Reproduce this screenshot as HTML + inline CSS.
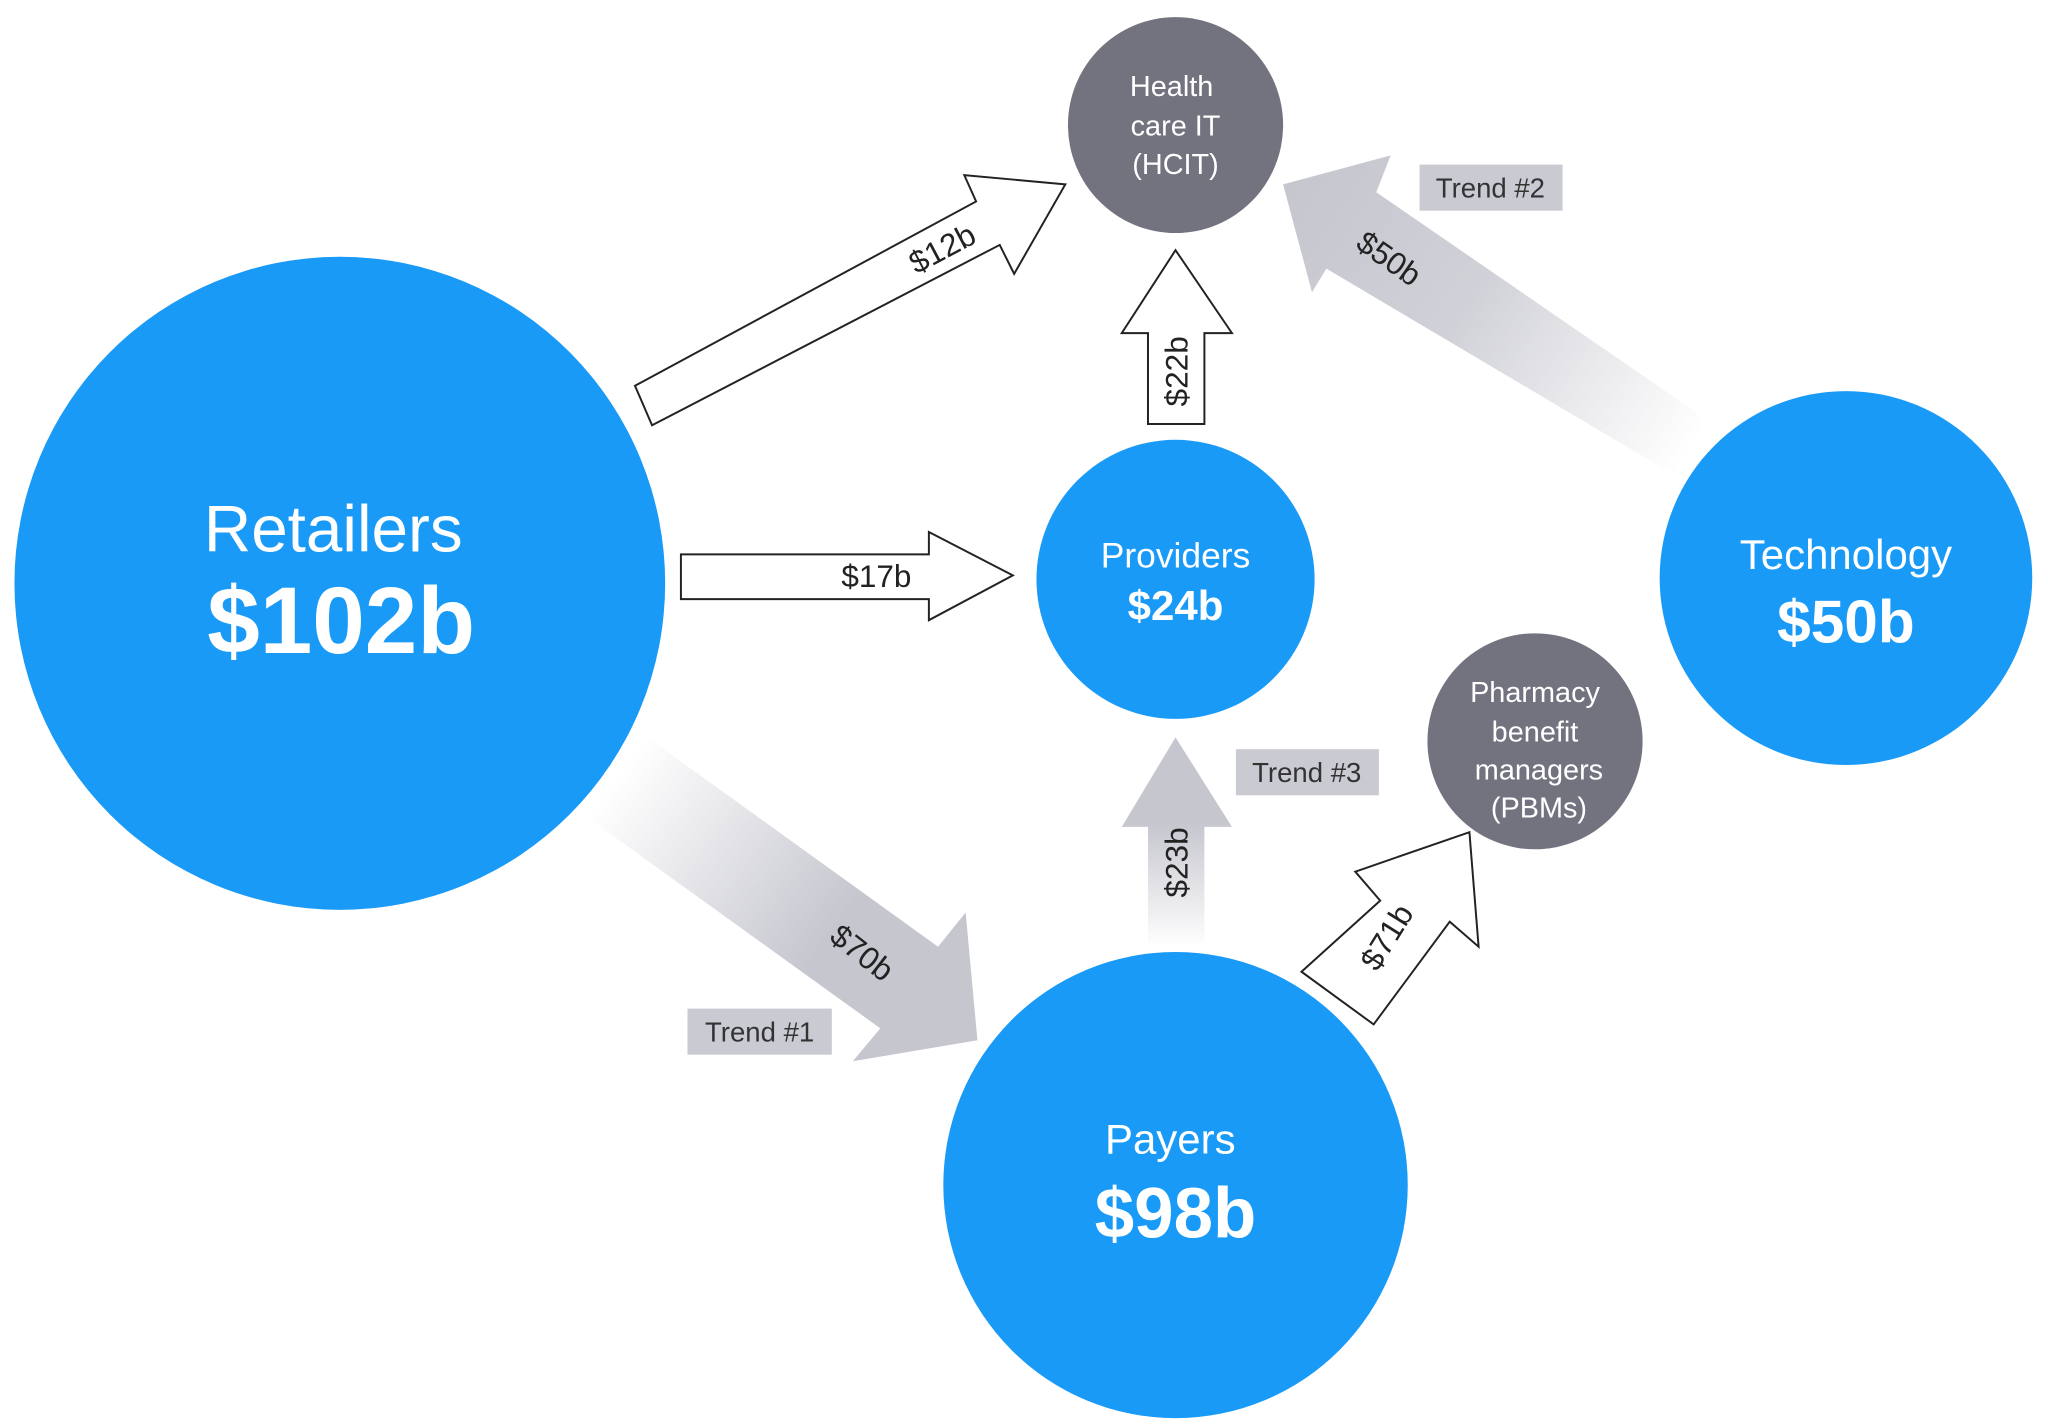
<!DOCTYPE html>
<html><head><meta charset="utf-8"><style>
html,body{margin:0;padding:0;background:#fff}
svg{display:block}
text{font-family:"Liberation Sans",sans-serif}
</style></head><body>
<svg width="2048" height="1426" viewBox="0 0 1561 1083" preserveAspectRatio="none" xmlns="http://www.w3.org/2000/svg">
<defs>
<linearGradient id="g70" gradientUnits="userSpaceOnUse" x1="470" y1="590" x2="745" y2="790">
<stop offset="0" stop-color="#c5c6ce" stop-opacity="0"/><stop offset="0.6" stop-color="#c5c6ce"/><stop offset="1" stop-color="#c5c6ce"/></linearGradient>
<linearGradient id="g50" gradientUnits="userSpaceOnUse" x1="1290" y1="340" x2="980" y2="140">
<stop offset="0" stop-color="#c5c6ce" stop-opacity="0"/><stop offset="0.55" stop-color="#c5c6ce" stop-opacity="0.8"/><stop offset="1" stop-color="#c5c6ce"/></linearGradient>
<linearGradient id="g23" gradientUnits="userSpaceOnUse" x1="0" y1="720" x2="0" y2="560">
<stop offset="0" stop-color="#c5c6ce" stop-opacity="0"/><stop offset="0.6" stop-color="#c5c6ce"/><stop offset="1" stop-color="#c5c6ce"/></linearGradient>
</defs>
<polygon points="492,559 715,719 736,693 745,790 650,806 671,781 448,621" fill="url(#g70)"/>
<polygon points="1300,318 1049,146 1060,118 978,140 1000,222 1011,204 1275,360" fill="url(#g50)"/>
<polygon points="875,720 875,628 855,628 896,560 939,628 918,628 918,720" fill="url(#g23)"/>
<circle cx="259" cy="443" r="248" fill="#1a9af7"/>
<circle cx="896" cy="440" r="106" fill="#1a9af7"/>
<circle cx="1407" cy="439" r="142" fill="#1a9af7"/>
<circle cx="896" cy="900" r="177" fill="#1a9af7"/>
<circle cx="896" cy="95" r="82" fill="#737380"/>
<circle cx="1170" cy="563" r="82" fill="#737380"/>
<g fill="#fff" stroke="#222" stroke-width="1.5">
<polygon points="484,293 744,153 735,133 812,140 773,208 762,186 497,323"/>
<polygon points="519,421 708,421 708,404 772,437 708,471 708,455 519,455"/>
<polygon points="875,322 875,253 855,253 896,190 939,253 918,253 918,322"/>
<polygon points="992,738 1052,684 1033,662 1120,632 1127,719 1105,700 1047,778"/>
</g>
<g font-size="21" fill="#333">
<rect x="524" y="766" width="110" height="35" fill="#c9cad2"/><text x="579" y="791" text-anchor="middle">Trend #1</text>
<rect x="1082" y="125" width="109" height="35" fill="#c9cad2"/><text x="1136" y="150" text-anchor="middle">Trend #2</text>
<rect x="942" y="569" width="109" height="35" fill="#c9cad2"/><text x="996" y="594" text-anchor="middle">Trend #3</text>
</g>
<g font-size="24" fill="#222" text-anchor="middle">
<text transform="translate(722,196) rotate(-28)">$12b</text>
<text x="668" y="446">$17b</text>
<text transform="translate(905,282) rotate(-90)">$22b</text>
<text transform="translate(905,655) rotate(-90)">$23b</text>
<text transform="translate(1064,716) rotate(-58)">$71b</text>
<text transform="translate(652,730) rotate(38)">$70b</text>
<text transform="translate(1054,203) rotate(35)">$50b</text>
</g>
<g fill="#fff" text-anchor="middle">
<text x="254" y="419" font-size="50">Retailers</text>
<text x="260" y="496" font-size="72" font-weight="bold">$102b</text>
<text x="896" y="431" font-size="27">Providers</text>
<text x="896" y="471" font-size="32" font-weight="bold">$24b</text>
<text x="1407" y="432" font-size="32">Technology</text>
<text x="1407" y="488" font-size="46" font-weight="bold">$50b</text>
<text x="892" y="876" font-size="32">Payers</text>
<text x="896" y="940" font-size="54" font-weight="bold">$98b</text>
<g font-size="22">
<text x="893" y="73">Health</text><text x="896" y="103">care IT</text><text x="896" y="132">(HCIT)</text>
<text x="1170" y="533">Pharmacy</text><text x="1170" y="563">benefit</text><text x="1173" y="592">managers</text><text x="1173" y="621">(PBMs)</text>
</g>
</g>
</svg>
</body></html>
